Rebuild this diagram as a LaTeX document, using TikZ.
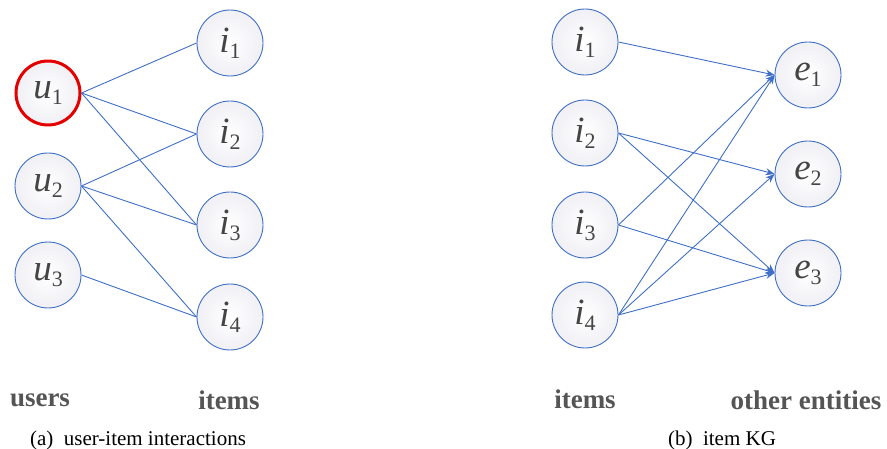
\documentclass[tikz,border=0pt]{standalone}
\usepackage{fontspec}
\setmainfont{Liberation Serif}
\usetikzlibrary{arrows.meta}
\definecolor{lineblue}{HTML}{3F6FC6}
\definecolor{txtgray}{HTML}{555555}
\definecolor{labgray}{HTML}{454545}
\definecolor{fillout}{HTML}{F0F0F5}
\newcommand{\nlab}[2]{{\fontsize{37}{37}\selectfont\itshape #1}\raisebox{-6pt}{\fontsize{22}{22}\selectfont #2}}
\tikzset{
  ent/.style={circle, draw=lineblue, line width=0.9pt, minimum size=66pt, inner sep=0pt,
    inner color=white, outer color=fillout, text=labgray},
  userhl/.style={ent, draw=red!90!black, line width=3pt, minimum size=64pt},
  edge/.style={lineblue, line width=0.9pt},
  arr/.style={edge, -{Stealth[length=9pt,width=7pt]}},
  grouplab/.style={font=\bfseries\fontsize{27}{27}\selectfont, text=txtgray},
  caption/.style={font=\fontsize{21}{21}\selectfont, text=black}
}
\begin{document}
\begin{tikzpicture}[x=1pt,y=-1pt]
\useasboundingbox (0,0) rectangle (887,449);
% left panel
\node[userhl] (u1) at (48,93) {\nlab{u}{1}};
\node[ent] (u2) at (48,186) {\nlab{u}{2}};
\node[ent] (u3) at (48,275) {\nlab{u}{3}};
\node[ent] (li1) at (230,43) {\nlab{i}{1}};
\node[ent] (li2) at (230,134) {\nlab{i}{2}};
\node[ent] (li3) at (230,225) {\nlab{i}{3}};
\node[ent] (li4) at (230,317) {\nlab{i}{4}};
\draw[edge] (u1.east) -- (li1.west);
\draw[edge] (u1.east) -- (li2.west);
\draw[edge] (u1.east) -- (li3.west);
\draw[edge] (u2.east) -- (li2.west);
\draw[edge] (u2.east) -- (li3.west);
\draw[edge] (u2.east) -- (li4.west);
\draw[edge] (u3.east) -- (li4.west);
% right panel
\node[ent] (ri1) at (585,42) {\nlab{i}{1}};
\node[ent] (ri2) at (585,133) {\nlab{i}{2}};
\node[ent] (ri3) at (585,225) {\nlab{i}{3}};
\node[ent] (ri4) at (585,315) {\nlab{i}{4}};
\node[ent] (e1) at (808,75) {\nlab{e}{1}};
\node[ent] (e2) at (808,174) {\nlab{e}{2}};
\node[ent] (e3) at (808,273) {\nlab{e}{3}};
\draw[arr] (ri1.east) -- (e1.west);
\draw[arr] (ri2.east) -- (e2.west);
\draw[arr] (ri2.east) -- (e3.west);
\draw[arr] (ri3.east) -- (e1.west);
\draw[arr] (ri3.east) -- (e3.west);
\draw[arr] (ri4.east) -- (e1.west);
\draw[arr] (ri4.east) -- (e2.west);
\draw[arr] (ri4.east) -- (e3.west);
% labels
\node[grouplab] (lu) at (40,400) {users};
\node[grouplab] (lli) at (229,400) {items};
\node[grouplab] (rli) at (585,399) {items};
\node[grouplab] (roe) at (806,400) {other entities};
\node[caption] (capa) at (138,440) {(a)\ \ user-item interactions};
\node[caption] (capb) at (722,440) {(b)\ \ item KG};
\end{tikzpicture}
\end{document}
